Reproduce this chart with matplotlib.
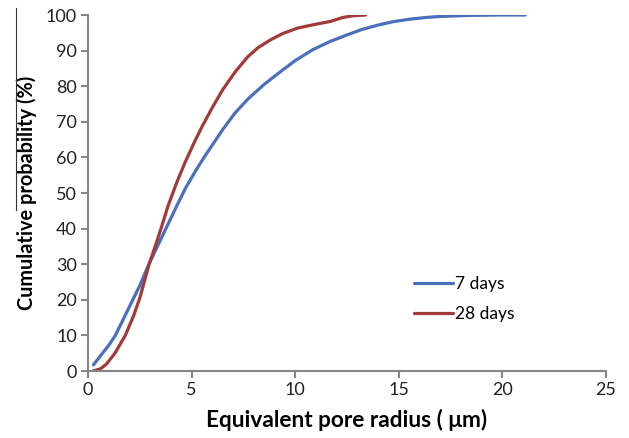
import matplotlib.pyplot as plt
from matplotlib.lines import Line2D

plt.rcParams['font.family'] = ['Lato', 'DejaVu Sans']

# cumulative pore size curves
radius_7 = [0.26, 0.7, 1.0, 1.3, 1.6, 1.95, 2.5, 2.9, 3.35, 3.8, 4.36, 4.7,
            5.2, 5.6, 6.13, 6.5, 7.1, 7.7, 8.5, 9.27, 10.0, 10.86, 11.7, 12.5,
            13.2, 13.95, 14.7, 15.5, 16.3, 17.0, 18.5, 20.0, 21.1]
prob_7 = [1.7, 5.0, 7.2, 9.8, 13.3, 17.5, 24.0, 29.5, 35.0, 40.5, 47.3, 51.3,
          56.3, 60.0, 64.6, 67.8, 72.5, 76.3, 80.5, 84.0, 87.2, 90.3, 92.6,
          94.4, 95.9, 97.1, 98.1, 98.8, 99.3, 99.6, 99.9, 100.0, 100.0]

radius_28 = [0.24, 0.6, 0.9, 1.3, 1.8, 2.2, 2.5, 2.95, 3.3, 3.55, 3.87, 4.3,
             4.7, 5.16, 5.5, 6.0, 6.5, 7.1, 7.7, 8.2, 8.8, 9.4, 10.1, 10.9,
             11.7, 12.3, 12.8, 13.4]
prob_28 = [0.0, 0.6, 2.0, 5.0, 10.0, 15.5, 20.5, 30.0, 36.0, 40.5, 46.5, 53.2,
           58.8, 64.6, 68.6, 74.0, 79.0, 84.0, 88.2, 90.8, 93.0, 94.8, 96.3,
           97.3, 98.2, 99.3, 99.8, 100.0]

series = [("7 days", radius_7, prob_7, "#4a6fbd"),
          ("28 days", radius_28, prob_28, "#a13a38")]

fig = plt.figure(figsize=(6.29, 4.38), dpi=100)
ax = fig.add_axes([88 / 629, 67 / 438, 518 / 629, 356 / 438])

for name, x, y, col in series:
    ax.plot(x, y, color=col, lw=2.3, label=name, solid_capstyle="round",
            solid_joinstyle="round")

ax.set_xlim(0, 25)
ax.set_ylim(0, 100)
ax.set_xticks(range(0, 26, 5))
ax.set_yticks(range(0, 101, 10))

for s in ["top", "right"]:
    ax.spines[s].set_visible(False)
for s in ["left", "bottom"]:
    ax.spines[s].set_color("#868686")
    ax.spines[s].set_linewidth(1.5)
ax.tick_params(direction="out", length=5, width=1.5, color="#868686",
               labelsize=13, labelcolor="#222222", pad=3)

ax.set_xlabel("Equivalent pore radius ( μm)", fontsize=16.3, fontweight="bold",
              labelpad=8)
ax.set_ylabel("Cumulative probability (%)", fontsize=14.3, fontweight="bold",
              labelpad=6)

ax.legend(loc="upper left", bbox_to_anchor=(0.6, 0.31), frameon=False,
          fontsize=12.5, handlelength=2.2, handletextpad=0.15, labelspacing=0.8)

# stray thin rule left of the y label in the original
fig.add_artist(Line2D([16 / 629, 16 / 629], [1 - 8 / 438, 1 - 210 / 438],
                      color="#333333", lw=0.8))

fig.savefig("out.png", dpi=100)
